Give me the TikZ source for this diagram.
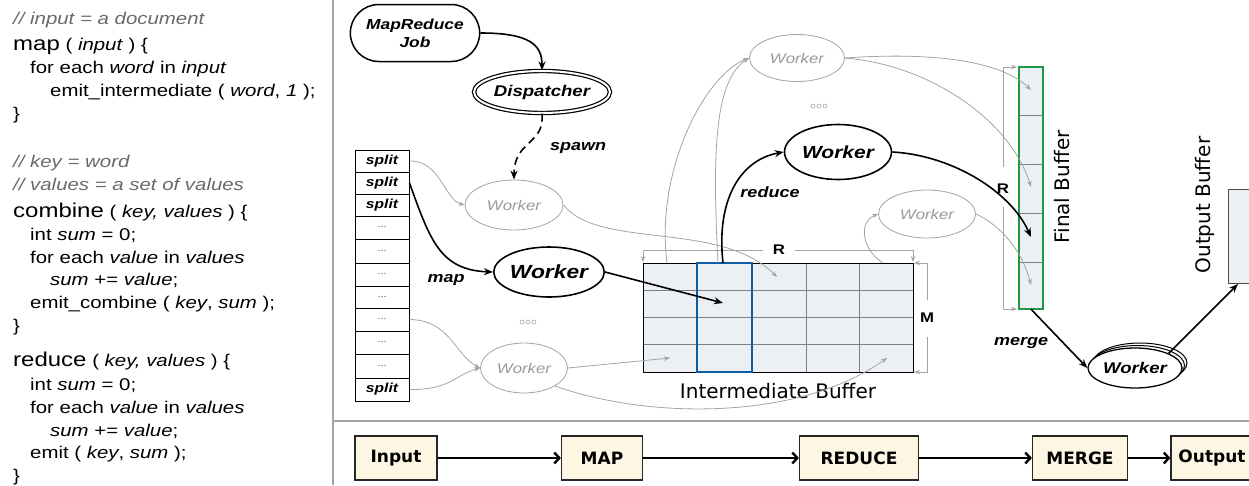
\documentclass[tikz,border=0pt]{standalone}
\usepackage{fontspec}
\setmainfont{Liberation Sans}[FakeStretch=1.2]
\newfontfamily\comic{DejaVu Sans}
\usetikzlibrary{arrows.meta,shapes.geometric,shapes.misc,shadows}
\definecolor{grayline}{HTML}{A4A4A4}
\definecolor{graytext}{HTML}{9A9A9A}
\definecolor{cmtgray}{HTML}{6A6A6A}
\definecolor{lightfill}{HTML}{ECEFF4}
\definecolor{bluecol}{HTML}{0C5DA5}
\definecolor{greencol}{HTML}{1A9A45}
\definecolor{cream}{HTML}{FDF6E3}
\begin{document}
\begin{tikzpicture}[x=1pt,y=-1pt,
    codeln/.style={anchor=base west,inner sep=0pt,font=\fontsize{17}{20}\selectfont},
    cmt/.style={codeln,text=cmtgray,font=\itshape\fontsize{17}{20}\selectfont},
    kw/.style={font=\fontsize{20}{22}\selectfont},
    splitcell/.style={draw,line width=1pt,minimum width=54pt,inner sep=0pt},
    bw/.style={draw,ellipse,line width=1.6pt,fill=white,inner sep=0pt},
    gw/.style={draw=grayline,ellipse,line width=0.8pt,fill=white,inner sep=0pt,
        text=graytext,font=\itshape\fontsize{14}{16}\selectfont},
    lab/.style={font=\bfseries\itshape\fontsize{15}{18}\selectfont},
    dim/.style={font=\bfseries\fontsize{14}{16}\selectfont,inner sep=1pt},
    buflab/.style={font=\comic\fontsize{20}{22}\selectfont},
    bk/.style={line width=1.6pt,-{Stealth[length=9pt,width=7pt]}},
    gl/.style={draw=grayline,line width=0.8pt,-{Stealth[length=6pt,width=4.5pt]}},
    stage/.style={draw=black!85,line width=1.2pt,fill=cream,minimum height=44pt,
        inner sep=0pt,font=\comic\bfseries\fontsize{17}{20}\selectfont},
    pipe/.style={line width=2.4pt,-{Straight Barb[length=5pt,width=11pt]}}]
    \useasboundingbox (0,0) rectangle (1249,485);
    \draw[grayline,line width=1.5pt] (333,0) -- (333,485);
    \draw[grayline,line width=1.5pt] (333,421) -- (1249,421);

    \node[cmt] (c1) at (13,24) {// input = a document};
    \node[codeln] (c2) at (13,50) {{\fontsize{20}{22}\selectfont map} ( \textit{input} ) \{};
    \node[codeln] (c3) at (30,73) {for each \textit{word} in \textit{input}};
    \node[codeln] (c4) at (50,96) {emit\_intermediate ( \textit{word}, \textit{1} );};
    \node[codeln] (c5) at (13,119) {\}};
    \node[cmt] (c6) at (13,167) {// key = word};
    \node[cmt] (c7) at (13,190) {// values = a set of values};
    \node[codeln] (c8) at (13,217) {{\fontsize{20}{22}\selectfont combine} ( \textit{key, values} ) \{};
    \node[codeln] (c9) at (30,240) {int \textit{sum} = 0;};
    \node[codeln] (c10) at (30,263) {for each \textit{value} in \textit{values}};
    \node[codeln] (c11) at (50,285) {\textit{sum} += \textit{value};};
    \node[codeln] (c12) at (30,308) {emit\_combine ( \textit{key}, \textit{sum} );};
    \node[codeln] (c13) at (13,331) {\}};
    \node[codeln] (c14) at (13,366) {{\fontsize{20}{22}\selectfont reduce} ( \textit{key, values} ) \{};
    \node[codeln] (c15) at (30,390) {int \textit{sum} = 0;};
    \node[codeln] (c16) at (30,413) {for each \textit{value} in \textit{values}};
    \node[codeln] (c17) at (50,436) {\textit{sum} += \textit{value};};
    \node[codeln] (c18) at (30,458) {emit ( \textit{key}, \textit{sum} );};
    \node[codeln] (c19) at (13,481) {\}};

    \node[stage,minimum width=82pt] (inp) at (396,458) {Input};
    \node[stage,minimum width=81pt] (mp) at (602,458) {MAP};
    \node[stage,minimum width=119pt] (rd) at (859,458) {REDUCE};
    \node[stage,minimum width=95pt] (mg) at (1080,458) {MERGE};
    \node[stage,minimum width=82pt] (op) at (1212,458) {Output};
    \draw[pipe] (inp) -- (mp);
    \draw[pipe] (mp) -- (rd);
    \draw[pipe] (rd) -- (mg);
    \draw[pipe] (mg) -- (op);

    \node[draw,rounded rectangle,line width=1.5pt,minimum width=136pt,minimum height=57pt,
          align=center,font=\bfseries\itshape\fontsize{14.5}{18}\selectfont] (job) at (415,33) {MapReduce\\Job};
    \node[draw,ellipse,double,double distance=2pt,line width=1.2pt,minimum width=114pt,
          minimum height=42pt,inner sep=0pt,font=\bfseries\itshape\fontsize{15.5}{18}\selectfont] (disp) at (542,92) {Dispatcher};

    \foreach \i/\a/\b in {1/150/172,2/172/194,3/194/216,11/378/401}
        \node[splitcell,minimum height={\b-\a},font=\bfseries\itshape\fontsize{13}{15}\selectfont]
            (s\i) at (382,{(\a+\b)/2}) {split};
    \foreach \i/\a/\b in {4/216/239,5/239/263,6/263/286,7/286/308,8/308/331,9/331/354,10/354/378}
        \node[splitcell,minimum height={\b-\a},text=black!70,font=\fontsize{9}{10}\selectfont]
            (s\i) at (382,{(\a+\b)/2}) {...};

    \node[draw,fill=lightfill,line width=1pt,minimum width=270pt,minimum height=109pt,inner sep=0pt] (ibuf) at (778,317.5) {};
    \foreach \x in {697,752,806,859} \draw[gray,line width=0.8pt] (\x,263) -- (\x,372);
    \foreach \y in {290,317,344} \draw[gray,line width=0.8pt] (643,\y) -- (913,\y);
    \draw[line width=1pt] (643,263) rectangle (913,372);
    \draw[bluecol,line width=2.5pt] (697,263) rectangle (752,372);
    \node[buflab] (iblab) at (778,391) {Intermediate Buffer};

    \node[fill=lightfill,minimum width=24pt,minimum height=242pt,inner sep=0pt] (fbuf) at (1031,188) {};
    \foreach \y in {115,164,213,262} \draw[gray,line width=0.8pt] (1019,\y) -- (1043,\y);
    \draw[greencol,line width=2.5pt] (1019,67) rectangle (1043,309);
    \node[buflab,rotate=90] (fblab) at (1062,187) {Final Buffer};

    \node[draw=black!70,line width=1pt,fill=lightfill,minimum width=40pt,minimum height=94pt,
          inner sep=0pt,anchor=north west] (obuf) at (1228,189) {};
    \node[buflab,rotate=90] (oblab) at (1205,205) {Output Buffer};

    \draw[gl] (763,250) -- (643,250) -- (643,262);
    \draw[gl] (795,250) -- (913,250) -- (913,262);
    \node[dim] (rlab) at (779,250) {R};
    \draw[gl] (927,300) -- (927,263) -- (914,263);
    \draw[gl] (927,337) -- (927,372) -- (914,372);
    \node[dim] (mlab) at (927,318) {M};
    \draw[gl] (1003,167) -- (1003,67) -- (1017,67);
    \draw[gl] (1003,207) -- (1003,309) -- (1017,309);
    \node[dim] (rlab2) at (1003,189) {R};

    \node[gw,minimum width=98pt,minimum height=50pt] (gw1) at (514,205) {Worker};
    \node[gw,minimum width=87pt,minimum height=50pt] (gw2) at (524,368) {Worker};
    \node[gw,minimum width=95pt,minimum height=47pt] (gw3) at (797,58) {Worker};
    \node[gw,minimum width=97pt,minimum height=48pt] (gw4) at (927,214) {Worker};
    \node[bw,minimum width=108pt,minimum height=50pt,font=\bfseries\itshape\fontsize{19}{22}\selectfont] (bw1) at (549,272) {Worker};
    \node[bw,minimum width=107pt,minimum height=55pt,font=\bfseries\itshape\fontsize{17.5}{20}\selectfont] (bw2) at (838,152) {Worker};
    \node[bw,minimum width=94pt,minimum height=40pt,line width=1.3pt,
          double copy shadow={shadow xshift=2.5pt,shadow yshift=2.5pt,fill=white,draw=black,line width=1pt},
          font=\bfseries\itshape\fontsize{15.5}{18}\selectfont] (bw3) at (1135,368) {Worker};

    \foreach \dx in {-6,0,6} \draw[grayline,line width=0.6pt] (528+\dx,322) circle (2);
    \foreach \dx in {-6,0,6} \draw[grayline,line width=0.6pt] (819+\dx,106) circle (2);

    \node[lab] (lmap) at (446,280) {map};
    \node[lab] (lspawn) at (578,148) {spawn};
    \node[lab] (lreduce) at (770,192) {reduce};
    \node[lab] (lmerge) at (1021,343) {merge};

    \coordinate (ta) at (777,277);
    \coordinate (tb) at (670,358);
    \coordinate (tc) at (887,358);
    \coordinate (td) at (723,303);
    \coordinate (ua) at (667,263);
    \coordinate (ub) at (718,263);
    \coordinate (uc) at (723,263);
    \coordinate (ud) at (883,263);
    \coordinate (fa) at (1031,90);
    \coordinate (fc) at (1031,187);
    \coordinate (fd) at (1031,237);
    \coordinate (fe) at (1031,285);
    \coordinate (ot) at (1238,284);

    \draw[bk] (job.east) .. controls (530,33) and (542,45) .. (disp.north);
    \draw[bk,dash pattern=on 8pt off 5pt] (disp.south) .. controls (545,145) and (514,140) .. (gw1.north);
    \draw[gl] (s1.east) .. controls (440,160) and (445,200) .. (gw1.west);
    \draw[bk] (s2.east) .. controls (430,240) and (440,270) .. (bw1.west);
    \draw[gl] (s8.east) .. controls (450,320) and (455,355) .. (gw2.west);
    \draw[gl] (s11.east) .. controls (450,390) and (455,375) .. (gw2.west);
    \draw[gl] (gw1.east) .. controls (600,250) and (720,220) .. (ta);
    \draw[gl] (gw2.east) -- (tb);
    \draw[gl] (gw2.south east) .. controls (650,420) and (800,420) .. (tc);
    \draw[bk] (bw1.east) -- (td);
    \draw[gl] (ua) .. controls (655,170) and (705,75) .. (gw3.west);
    \draw[gl] (ub) .. controls (712,150) and (715,80) .. (gw3.west);
    \draw[gl] (gw3.east) .. controls (930,52) and (1000,60) .. (fa);
    \draw[gl] (gw3.east) .. controls (930,65) and (1010,120) .. (fc);
    \draw[gl] (ud) .. controls (862,250) and (858,222) .. (gw4.west);
    \draw[gl] (gw4.east) .. controls (1000,225) and (1022,250) .. (fe);
    \draw[bk] (uc) .. controls (716,200) and (740,160) .. (bw2.west);
    \draw[bk] (bw2.east) .. controls (950,155) and (1010,190) .. (fd);
    \draw[bk] (fbuf.south) -- (bw3.west);
    \draw[bk] (bw3.north east) -- (ot);
\end{tikzpicture}
\end{document}
